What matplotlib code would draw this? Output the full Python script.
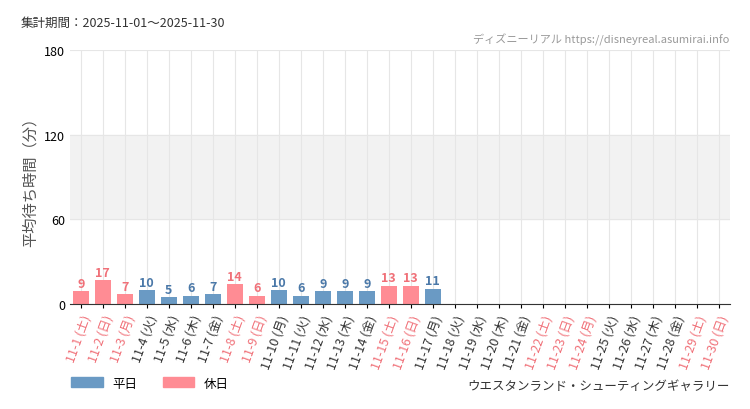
import matplotlib
matplotlib.use("Agg")
import matplotlib.pyplot as plt
import matplotlib.patches as mpatches

plt.rcParams['font.family'] = ['Noto Sans CJK JP', 'DejaVu Sans']

dates = [f"11-{d}" for d in range(1, 31)]
weekdays = ["土", "日", "月", "火", "水", "木", "金"]
labels = [f"{d} ({weekdays[i % 7]})" for i, d in enumerate(dates)]
holidays = [1, 2, 3, 8, 9, 15, 16, 22, 23, 24, 29, 30]
values = [9, 17, 7, 10, 5, 6, 7, 14, 6, 10, 6, 9, 9, 9, 13, 13, 11]

C_WD, C_HD = "#6a9ac4", "#ff8c94"
T_WD, T_HD = "#4a78a8", "#f07078"

fig = plt.figure(figsize=(7.5, 4.1), dpi=100)
ax = fig.add_axes([0.093, 0.256, 0.88, 0.62])
ax.axhspan(60, 120, color="#f2f2f2", zorder=0)
for i, v in enumerate(values):
    hol = (i + 1) in holidays
    ax.bar(i, v, width=0.75, color=C_HD if hol else C_WD, zorder=2)
    ax.text(i, v + 1, str(v), ha="center", va="bottom", fontsize=9,
            color=T_HD if hol else T_WD, fontweight="bold")
ax.set_xlim(-0.5, 29.5)
ax.set_ylim(0, 180)
ax.set_yticks([0, 60, 120, 180])
ax.tick_params(axis="y", labelsize=9, length=0)
ax.set_xticks(range(30))
ax.set_xticklabels(labels, rotation=70, ha="right", rotation_mode="anchor", fontsize=9)
for i, t in enumerate(ax.get_xticklabels()):
    t.set_color(T_HD if (i + 1) in holidays else "#333333")
ax.tick_params(axis="x", length=3)
ax.grid(axis="both", color="#e6e6e6", lw=0.8, zorder=1)
ax.set_axisbelow(True)
for s in ["top", "right"]:
    ax.spines[s].set_visible(False)
ax.spines["left"].set_visible(False)
ax.spines["bottom"].set_color("#333333")
ax.set_ylabel("平均待ち時間（分）", fontsize=11, color="#555555")

fig.text(0.027, 0.935, "集計期間：2025-11-01～2025-11-30", fontsize=9, color="#333333")
fig.text(0.973, 0.895, "ディズニーリアル https://disneyreal.asumirai.info", fontsize=8,
         color="#999999", ha="right")
fig.text(0.973, 0.05, "ウエスタンランド・シューティングギャラリー", fontsize=9,
         color="#333333", ha="right")
fig.legend(handles=[mpatches.Patch(color=C_WD, label="平日"),
                    mpatches.Patch(color=C_HD, label="休日")],
           loc="lower left", bbox_to_anchor=(0.08, 0.02), ncol=2, frameon=False,
           fontsize=9, handlelength=2.5, handleheight=0.9)
fig.savefig("out.png", dpi=100)
